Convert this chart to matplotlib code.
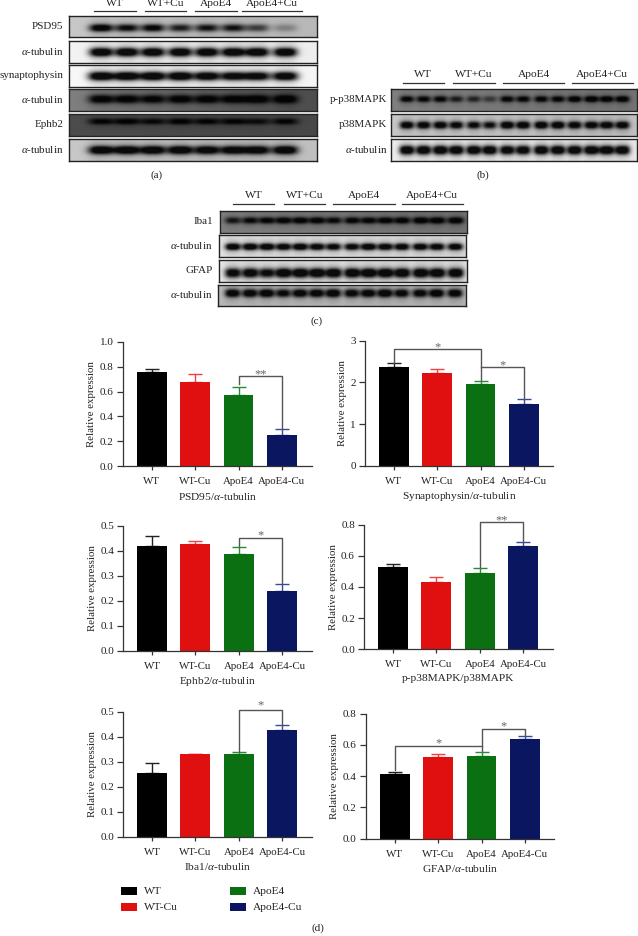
import numpy as np
import matplotlib
matplotlib.use('Agg')
import matplotlib.pyplot as plt

plt.rcParams['font.family'] = ['Liberation Serif', 'DejaVu Serif']
plt.rcParams['mathtext.fontset'] = 'custom'
plt.rcParams['mathtext.rm'] = 'Liberation Serif'
plt.rcParams['mathtext.it'] = 'Liberation Serif:italic'

W, H = 638, 936

# ------------------------------------------------------------
# Bar chart data
# ------------------------------------------------------------
groups = ['WT', 'WT-Cu', 'ApoE4', 'ApoE4-Cu']
bar_colors = ['#000000', '#E01010', '#0A7012', '#0A1660']
err_colors = ['#222222', '#F04040', '#2A8A3A', '#3A4A90']

psd95_vals = [0.76, 0.68, 0.57, 0.25]
psd95_tops = [0.78, 0.74, 0.635, 0.30]
syn_vals = [2.36, 2.23, 1.96, 1.48]
syn_tops = [2.46, 2.32, 2.03, 1.59]
ephb2_vals = [0.42, 0.425, 0.385, 0.24]
ephb2_tops = [0.46, 0.44, 0.415, 0.265]
p38_vals = [0.53, 0.43, 0.49, 0.665]
p38_tops = [0.55, 0.465, 0.52, 0.69]
iba1_vals = [0.255, 0.33, 0.33, 0.425]
iba1_tops = [0.295, 0.332, 0.34, 0.445]
gfap_vals = [0.415, 0.52, 0.53, 0.635]
gfap_tops = [0.43, 0.54, 0.555, 0.655]

# significance: (left, right, top, left end, right end, stars, star height)
psd95_sig = [(2, 3, 0.722, 0.658, 0.297, '**', 0.74)]
syn_sig = [(0, 2, 2.79, 2.47, 2.05, '*', 2.83), (2, 3, 2.36, 2.36, 1.60, '*', 2.41)]
ephb2_sig = [(2, 3, 0.451, 0.419, 0.267, '*', 0.46)]
p38_sig = [(2, 3, 0.819, 0.526, 0.697, '**', 0.83)]
iba1_sig = [(2, 3, 0.505, 0.343, 0.445, '*', 0.525)]
gfap_sig = [(0, 2, 0.595, 0.44, 0.56, '*', 0.61), (2, 3, 0.704, 0.595, 0.663, '*', 0.72)]

# ------------------------------------------------------------
# Blot band darkness per lane
# ------------------------------------------------------------
a_psd95 = [0.95, 0.8, 0.85, 0.7, 0.75, 0.75, 0.55, 0.25]
a_tub1 = [1, 1, 1, 1, 1, 1, 1, 1]
a_syn = [1, 1, 1, 1, 0.95, 0.9, 0.9, 0.95]
a_tub2 = [0.9, 0.9, 0.85, 0.9, 0.9, 0.9, 0.95, 1]
a_ephb2 = [0.8, 0.85, 0.75, 0.85, 0.8, 0.8, 0.7, 0.8]
a_tub3 = [1, 1, 1, 1, 0.95, 0.95, 0.95, 1]

b_pp38 = [0.85, 0.85, 0.85, 0.65, 0.6, 0.45, 0.85, 0.85, 0.85, 0.85, 0.95, 1, 0.95, 0.95]
b_p38 = [0.95, 0.95, 0.95, 0.9, 0.85, 0.8, 1, 1, 1, 1, 0.95, 0.95, 0.95, 0.95]
b_tub = [1, 1, 1, 1, 1, 1, 0.95, 0.95, 1, 1, 1, 1, 1, 1]

c_iba1 = [0.7, 0.8, 0.85, 0.9, 0.9, 0.9, 0.8, 0.85, 0.85, 0.9, 0.9, 0.95, 0.95, 0.95]
c_tub1 = [1, 1, 1, 0.95, 1, 0.95, 0.9, 0.9, 1, 0.95, 0.95, 0.95, 0.95, 0.95]
c_gfap = [0.9, 0.95, 0.85, 1, 1, 1, 1, 1, 1, 1, 1, 1, 1, 1]
c_tub2 = [0.95, 0.95, 1, 0.85, 0.95, 0.95, 1, 0.9, 0.95, 1, 0.9, 0.9, 1, 0.95]

a_labels = ['PSD95', r'$\alpha$-tubulin', 'synaptophysin', r'$\alpha$-tubulin', 'Ephb2', r'$\alpha$-tubulin']
b_labels = ['p-p38MAPK', 'p38MAPK', r'$\alpha$-tubulin']
c_labels = ['Iba1', r'$\alpha$-tubulin', 'GFAP', r'$\alpha$-tubulin']
header_names = ['WT', 'WT+Cu', 'ApoE4', 'ApoE4+Cu']

fig = plt.figure(figsize=(W / 100, H / 100), dpi=100)


def px_axes(x0, y0, x1, y1):
    return fig.add_axes([x0 / W, 1 - y1 / H, (x1 - x0) / W, (y1 - y0) / H])


def px_text(x, y, s, **kw):
    fig.text(x / W, 1 - y / H, s, va='center', **kw)


def draw_blot(box, lanes, dark, bg, label, label_x, half_w=13, half_h=4.2, band_y=0.5):
    x0, y0, x1, y1 = box
    xs = np.arange(x0, x1, 0.5)
    ys = np.arange(y0, y1, 0.5)
    xx, yy = np.meshgrid(xs, ys)
    yc = y0 + band_y * (y1 - y0)
    ink = np.zeros_like(xx)
    for lane, d in zip(lanes, dark):
        prof = np.exp(-np.abs((xx - lane) / half_w) ** 3)
        ink += d * prof * (np.exp(-np.abs((yy - yc) / half_h) ** 2.5)
                           + 0.25 * np.exp(-((yy - yc) / (half_h * 2.2)) ** 2))
    # background gets a bit darker toward the edges of the membrane
    img = bg[0] + (bg[1] - bg[0]) * (xx - x0) / (x1 - x0)
    img = img * (1 - np.clip(ink, 0, 0.95))
    ax = px_axes(x0, y0, x1, y1)
    ax.imshow(img, cmap='gray', vmin=0, vmax=1, aspect='auto', extent=(x0, x1, y1, y0),
              interpolation='bilinear')
    ax.set_xticks([])
    ax.set_yticks([])
    for s in ax.spines.values():
        s.set_linewidth(1.0)
        s.set_color('#222222')
    px_text(label_x, (y0 + y1) / 2 - 0.5, label, ha='right', fontsize=7.9, color='#222222')


def draw_header(segments, line_y, text_y):
    for (xa, xb), name in zip(segments, header_names):
        fig.add_artist(plt.Line2D([xa / W, xb / W], [1 - line_y / H] * 2, color='#333333', lw=0.9))
        px_text((xa + xb) / 2, text_y, name, ha='center', fontsize=8.2, color='#222222')


def draw_bars(box, first, step, vals, tops, ymax, yticks, yfmt, xlabel, sig):
    x0, y0, x1, y1 = box
    ax = px_axes(x0, y0, x1, y1)
    ax.set_xlim((x0 - first) / step, (x1 - first) / step)
    ax.set_ylim(0, ymax)
    pos = np.arange(len(vals))
    ax.bar(pos, vals, width=0.69, color=bar_colors, zorder=2)
    for i in pos:
        ax.errorbar(i, vals[i], yerr=[[0], [tops[i] - vals[i]]], ecolor=err_colors[i], elinewidth=1.0,
                    capsize=5.2, capthick=1.0, fmt='none', zorder=1)
    for left, right, top, yl, yr, stars, star_y in sig:
        ax.plot([left, left, right, right], [yl, top, top, yr], color='#555555', lw=1.0,
                clip_on=False, zorder=3)
        ax.text((left + right) / 2, star_y, stars, ha='center', va='center', fontsize=9,
                color='#666666', clip_on=False)
    ax.set_xticks(pos)
    ax.set_xticklabels(groups)
    ax.set_yticks(yticks)
    ax.set_yticklabels([yfmt % t for t in yticks])
    ax.tick_params(axis='x', length=3, width=0.9, labelsize=7.8, pad=5, labelcolor='#222222', color='#333333')
    ax.tick_params(axis='y', length=4, width=0.9, labelsize=8, pad=2.5, labelcolor='#222222', color='#333333')
    ax.spines['top'].set_visible(False)
    ax.spines['right'].set_visible(False)
    ax.spines['left'].set_linewidth(0.9)
    ax.spines['bottom'].set_linewidth(0.9)
    ax.spines['left'].set_color('#333333')
    ax.spines['bottom'].set_color('#333333')
    ax.set_ylabel('Relative expression', fontsize=7.8, labelpad=2.5, color='#222222')
    ax.set_xlabel(xlabel, fontsize=8.2, labelpad=3, color='#222222')


# ------------------------------------------------------------
# (a)
# ------------------------------------------------------------
lanes_a = [101, 126.7, 152.7, 180, 206.7, 233, 257, 285]
draw_blot((69, 16, 316.7, 37.3), lanes_a, a_psd95, (0.78, 0.72), a_labels[0], 63.5, half_w=12, band_y=0.58, half_h=3.6)
draw_blot((69, 41.3, 316.7, 62.7), lanes_a, a_tub1, (0.95, 0.93), a_labels[1], 63.5, half_w=12)
draw_blot((69, 65.3, 316.7, 86.7), lanes_a, a_syn, (0.97, 0.96), a_labels[2], 63.5)
draw_blot((69, 89, 316.7, 111), lanes_a, a_tub2, (0.5, 0.3), a_labels[3], 63.5, band_y=0.45)
draw_blot((69, 114.3, 316.7, 135.7), lanes_a, a_ephb2, (0.3, 0.28), a_labels[4], 63.5, band_y=0.33, half_h=3)
draw_blot((69, 139.3, 316.7, 161), lanes_a, a_tub3, (0.78, 0.75), a_labels[5], 63.5)
draw_header([(94.3, 135.7), (144.7, 186), (195.3, 236.7), (242.3, 302.3)], 11, 3)
px_text(157, 175, '(a)', ha='center', fontsize=8, color='#222222')

# ------------------------------------------------------------
# (b)
# ------------------------------------------------------------
lanes_b = [406.7, 423.3, 440, 456, 473.3, 489.3, 506.7, 522.7, 540.7, 557.3, 574, 590.7, 606, 621.7]
draw_blot((391, 89.3, 637.3, 110.7), lanes_b, b_pp38, (0.5, 0.45), b_labels[0], 387.3, half_w=7.2, half_h=3, band_y=0.45)
draw_blot((391, 114.3, 637.3, 136), lanes_b, b_p38, (0.78, 0.75), b_labels[1], 387.3, half_w=7.2, half_h=3.6)
draw_blot((391, 139.3, 637.3, 161), lanes_b, b_tub, (0.92, 0.9), b_labels[2], 387.3, half_w=7.6, half_h=4.4)
draw_header([(402.7, 444), (453.3, 495), (503.3, 564.3), (571.7, 632.7)], 82.7, 74.3)
px_text(482.7, 175, '(b)', ha='center', fontsize=8, color='#222222')

# ------------------------------------------------------------
# (c)
# ------------------------------------------------------------
lanes_c = [232.7, 250, 266.7, 283.3, 300, 316.7, 333.3, 351.7, 368.3, 385, 401.7, 420, 436.7, 455]
draw_blot((220, 211.3, 467.3, 232.7), lanes_c, c_iba1, (0.5, 0.45), c_labels[0], 212.7, half_w=8.2, half_h=3.2, band_y=0.42)
draw_blot((219, 235, 466, 257.3), lanes_c, c_tub1, (0.88, 0.85), c_labels[1], 212.7, half_w=7.8, half_h=3.3, band_y=0.55)
draw_blot((219, 260.3, 466.5, 281.7), lanes_c, c_gfap, (0.9, 0.88), c_labels[2], 212.7, half_w=8.2, half_h=4.6, band_y=0.58)
draw_blot((218.3, 285, 466, 306), lanes_c, c_tub2, (0.72, 0.7), c_labels[3], 212.7, half_w=7.8, half_h=4, band_y=0.38)
draw_header([(233.3, 274.3), (283.7, 325), (333.3, 395), (401.7, 462.7)], 204, 196)
px_text(316.7, 321, '(c)', ha='center', fontsize=8, color='#222222')

# ------------------------------------------------------------
# (d)
# ------------------------------------------------------------
t1 = [0.0, 0.2, 0.4, 0.6, 0.8, 1.0]
t2 = [0, 1, 2, 3]
t3 = [0.0, 0.1, 0.2, 0.3, 0.4, 0.5]
t4 = [0.0, 0.2, 0.4, 0.6, 0.8]
draw_bars((122.7, 341.7, 311.7, 466.3), 151.7, 43.4, psd95_vals, psd95_tops, 1.0, t1, '%.1f',
          r'PSD95/$\alpha$-tubulin', psd95_sig)
draw_bars((365, 340.7, 553.3, 465.7), 393.7, 43.4, syn_vals, syn_tops, 3, t2, '%d',
          r'Synaptophysin/$\alpha$-tubulin', syn_sig)
draw_bars((123.3, 525.7, 311.7, 650.7), 152, 43.4, ephb2_vals, ephb2_tops, 0.5, t3, '%.1f',
          r'Ephb2/$\alpha$-tubulin', ephb2_sig)
draw_bars((364, 524.7, 552.7, 649.3), 393, 43.4, p38_vals, p38_tops, 0.8, t4, '%.1f',
          'p-p38MAPK/p38MAPK', p38_sig)
draw_bars((123.3, 711.7, 311.7, 837), 152, 43.4, iba1_vals, iba1_tops, 0.5, t3, '%.1f',
          r'Iba1/$\alpha$-tubulin', iba1_sig)
draw_bars((365.7, 713.7, 554, 838.7), 394.7, 43.4, gfap_vals, gfap_tops, 0.8, t4, '%.1f',
          r'GFAP/$\alpha$-tubulin', gfap_sig)

# legend, placed by hand
legend_slots = [(121, 887), (121, 903), (230, 887), (230, 903)]
for (lx, ly), name, col in zip(legend_slots, groups, bar_colors):
    fig.patches.append(plt.Rectangle((lx / W, 1 - (ly + 8) / H), 15.7 / W, 8 / H, transform=fig.transFigure,
                                     facecolor=col, edgecolor='none'))
    px_text(lx + 23, ly + 4.5, name, ha='left', fontsize=8.2, color='#222222')
px_text(317.7, 928, '(d)', ha='center', fontsize=8, color='#222222')

fig.savefig('out.png', dpi=100)
